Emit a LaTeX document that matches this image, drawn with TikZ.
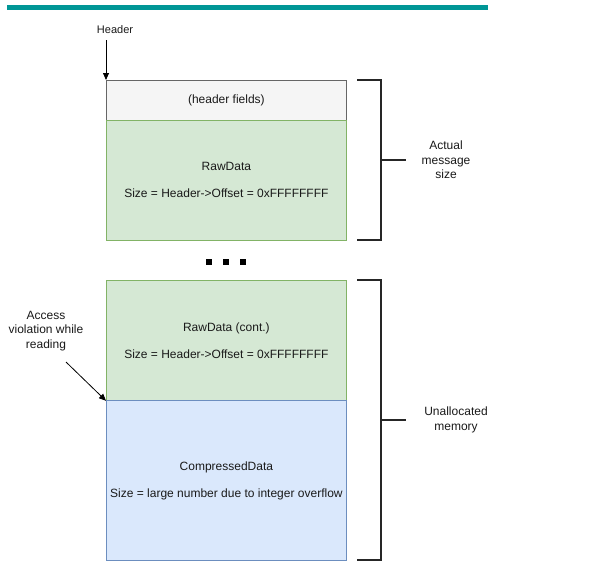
\documentclass[tikz,border=0pt]{standalone}
\usepackage{fontspec}
\setmainfont{Liberation Sans}
\usetikzlibrary{arrows.meta}
\definecolor{teal1}{RGB}{0,150,150}
\definecolor{hdrfill}{HTML}{F5F5F5}
\definecolor{hdrdraw}{HTML}{666666}
\definecolor{grfill}{HTML}{D5E8D4}
\definecolor{grdraw}{HTML}{82B366}
\definecolor{blfill}{HTML}{DAE8FC}
\definecolor{bldraw}{HTML}{6C8EBF}
\definecolor{txt}{HTML}{1A1A1A}
\tikzset{
  blk/.style={anchor=north west, inner sep=0pt, minimum width=240pt, align=center, text=txt,
    font=\fontsize{12}{14.4}\selectfont, line width=0.8pt},
  hdrbox/.style={blk, fill=hdrfill, draw=hdrdraw, minimum height=40pt},
  grbox/.style={blk, fill=grfill, draw=grdraw},
  blbox/.style={blk, fill=blfill, draw=bldraw},
  lbl/.style={align=center, text=txt, inner sep=0pt, font=\fontsize{12}{14.4}\selectfont},
  brk/.style={line width=1.8pt, draw=black!85},
  ptr/.style={line width=0.8pt, -{Triangle[length=7pt,width=6pt]}},
  dot/.style={fill=black}
}
\begin{document}
\begin{tikzpicture}[x=1pt,y=-1pt]
\useasboundingbox (0,0) rectangle (596,587);
\fill[white] (0,0) rectangle (596,587);
\fill[teal1] (7,5) rectangle (488,10);

\node[hdrbox] (hdr) at (106,80) {(header fields)};
\node[grbox, minimum height=120pt] (raw1) at (106,120) {RawData\\[12.6pt]Size = Header->Offset = 0xFFFFFFFF};
\node[grbox, minimum height=120pt] (raw2) at (106,280) {RawData (cont.)\\[12.6pt]Size = Header->Offset = 0xFFFFFFFF};
\node[blbox, minimum height=160pt] (comp) at (106,400) {CompressedData\\[12.6pt]Size = large number due to integer overflow};

\fill[dot] (206,259) rectangle (212,265);
\fill[dot] (223,259) rectangle (229,265);
\fill[dot] (239.5,259) rectangle (245.5,265);

\node[lbl, font=\fontsize{11}{13}\selectfont] (hlab) at (115,30) {Header};
\coordinate (hstart) at (106,40);
\draw[ptr] (hstart) -- (hdr.north west);

\node[lbl] (alab) at (46,331) {Access\\violation while\\reading};
\coordinate (astart) at (66,362);
\draw[ptr] (astart) -- (raw2.south west);

\draw[brk] (357,80) -- (381,80) -- (381,240) -- (357,240);
\draw[brk] (381,160) -- (406,160);
\node[lbl] (amsz) at (446,160) {Actual\\message\\size};

\draw[brk] (357,280) -- (381,280) -- (381,560) -- (357,560);
\draw[brk] (381,420) -- (406,420);
\node[lbl] (unal) at (456,420) {Unallocated\\memory};
\end{tikzpicture}
\end{document}
